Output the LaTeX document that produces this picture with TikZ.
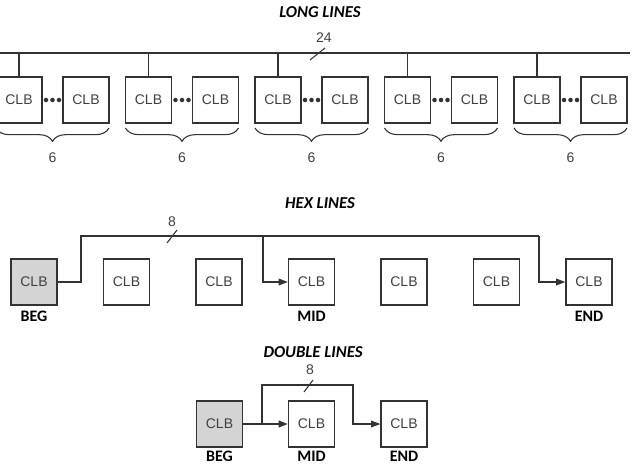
\documentclass[tikz,border=0pt]{standalone}
\usepackage{fontspec}
\setmainfont{Liberation Sans}
\newfontfamily\calibri{Carlito}
\usetikzlibrary{arrows.meta,decorations.pathreplacing}
\definecolor{linegray}{HTML}{333333}
\definecolor{begfill}{HTML}{D4D4D4}
\begin{document}
\begin{tikzpicture}[x=0.75pt,y=-0.75pt,
  clb/.style={draw=linegray,line width=0.9pt,minimum size=34.5pt,inner sep=0pt,
    font=\fontsize{10.5}{12}\selectfont,text=black!75},
  heading/.style={font=\calibri\bfseries\itshape\fontsize{12.5}{14}\selectfont},
  tag/.style={font=\calibri\bfseries\fontsize{12}{14}\selectfont},
  num/.style={font=\fontsize{10.5}{12}\selectfont,text=black!75},
  bus/.style={draw=linegray,line width=1.6pt},
  tap/.style={draw=linegray,line width=0.8pt},
  tip/.style={-{Triangle[length=7pt,width=5pt]}}]
\useasboundingbox (0,0) rectangle (633,464);

% long lines
\node[heading] (longT) at (320,12) {LONG LINES};
\coordinate (busL) at (-5,53);
\coordinate (busR) at (630,53);
\draw[bus] (busL) -- (busR);
\node[num] (longW) at (324,38) {24};
\draw[tap] (310,60) -- (325,48);
\foreach \g in {0,...,4} {
  \node[clb] (a\g) at ({19+129.5*\g},100) {CLB};
  \node[clb] (b\g) at ({86+129.5*\g},100) {CLB};
  \draw[tap] (a\g.north |- busL) -- (a\g.north);
  \foreach \d in {-6.5,0,6.5}
    \fill[linegray] ({52.5+129.5*\g+\d},100) circle (1.7pt);
  \draw[tap,decorate,decoration={brace,mirror,amplitude=10pt}]
    ({-4+129.5*\g},128) -- ({109+129.5*\g},128);
  \node[num] (six\g) at ({52.5+129.5*\g},158) {6};
}

% hex lines
\node[heading] (hexT) at (320,203) {HEX LINES};
\node[clb,fill=begfill] (h0) at (34,282) {CLB};
\foreach \i in {1,...,6}
  \node[clb] (h\i) at ({34+92.5*\i},282) {CLB};
\node[tag] (hexBeg) at (34,316) {BEG};
\node[tag] (hexMid) at (311.5,316) {MID};
\node[tag] (hexEnd) at (589,316) {END};
\coordinate (hexUp) at (81,236);
\coordinate (hexTapM) at (263,236);
\coordinate (hexTapE) at (539,236);
\draw[bus,line width=1.8pt] (h0.east) -| (hexUp) -- (hexTapE);
\draw[tap,line width=1pt,tip] (hexTapM) |- (h3.west);
\draw[tap,line width=1pt,tip] (hexTapE) |- (h6.west);
\node[num] (hexW) at (172,222) {8};
\draw[tap] (167,243) -- (177,230);

% double lines
\node[heading] (dblT) at (313,352) {DOUBLE LINES};
\node[clb,fill=begfill] (d0) at (219.5,424) {CLB};
\node[clb] (d1) at (311.5,424) {CLB};
\node[clb] (d2) at (404,424) {CLB};
\node[tag] (dblBeg) at (219.5,456) {BEG};
\node[tag] (dblMid) at (311.5,456) {MID};
\node[tag] (dblEnd) at (404,456) {END};
\coordinate (dblUp) at (262,385);
\coordinate (dblDn) at (353,385);
\draw[bus,tip] (d0) -- (d1);
\draw[tap,tip] (dblUp |- d0.east) -- (dblUp) -| (dblDn |- d2.west) -- (d2.west);
\node[num] (dblW) at (310,370) {8};
\draw[tap] (304,392) -- (313,380);
\end{tikzpicture}
\end{document}
